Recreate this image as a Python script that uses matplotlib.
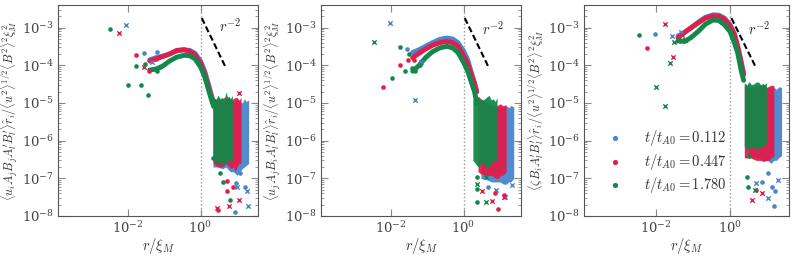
import matplotlib
matplotlib.use("Agg")
import matplotlib.pyplot as plt
from matplotlib.ticker import FixedLocator, LogLocator, NullLocator, NullFormatter

plt.rcParams['mathtext.fontset'] = 'cm'
plt.rcParams['font.family'] = ['DejaVu Serif']

# ---------------- data ----------------
COLORS = ['#4a86cc', '#e01e4b', '#14874a']
TIMES = ['0.112', '0.447', '1.780']

R_CURVE = [0.04, 0.06, 0.09, 0.14, 0.22, 0.35, 0.5, 0.7, 1.0, 1.3, 1.6, 2.0, 2.3]

# panel A
A_BLUE = [1.4e-4, 1.6e-4, 1.75e-4, 2.0e-4, 2.4e-4, 2.6e-4, 2.5e-4, 2.1e-4, 1.3e-4, 7e-5, 3.5e-5, 1.6e-5, 1.0e-5]
A_RED = [1.3e-4, 1.5e-4, 1.7e-4, 2.0e-4, 2.5e-4, 2.6e-4, 2.35e-4, 1.9e-4, 1.15e-4, 6e-5, 3e-5, 1.4e-5, 1.0e-5]
A_GREEN = [7.5e-5, 8e-5, 9.5e-5, 1.3e-4, 1.65e-4, 1.85e-4, 1.8e-4, 1.5e-4, 9e-5, 5e-5, 2.5e-5, 1.2e-5, 8e-6]
# panel B
B_BLUE = [2.2e-4, 2.6e-4, 3.2e-4, 4.0e-4, 4.9e-4, 5.3e-4, 5.0e-4, 4.0e-4, 2.4e-4, 1.4e-4, 7e-5, 3.5e-5, 2e-5]
B_RED = [1.6e-4, 2.1e-4, 2.7e-4, 3.4e-4, 4.0e-4, 4.3e-4, 4.0e-4, 3.2e-4, 1.8e-4, 1.1e-4, 6e-5, 3.2e-5, 2e-5]
B_GREEN = [7e-5, 1.0e-4, 1.6e-4, 2.3e-4, 2.9e-4, 3.2e-4, 2.9e-4, 2.2e-4, 1.2e-4, 7e-5, 3.8e-5, 2e-5, 1e-5]
# panel C
C_BLUE = [6e-4, 7.5e-4, 1.0e-3, 1.4e-3, 1.9e-3, 2.2e-3, 2.15e-3, 1.8e-3, 1.2e-3, 7e-4, 3.3e-4, 1.2e-4, 6e-5]
C_RED = [5.5e-4, 7.5e-4, 1.0e-3, 1.35e-3, 1.8e-3, 2.05e-3, 2.0e-3, 1.7e-3, 1.1e-3, 6.5e-4, 3e-4, 1.1e-4, 5.6e-5]
C_GREEN = [4.5e-4, 4.3e-4, 5.5e-4, 8e-4, 1.25e-3, 1.6e-3, 1.55e-3, 1.2e-3, 7.8e-4, 4e-4, 2.1e-4, 7e-5, 4e-5]

# noisy large-r bands: x, upper, lower
A_BAND_BLUE_X = [2.2, 3, 4, 5, 6.5, 8, 10, 12, 14, 16, 18, 21]
A_BAND_BLUE_HI = [1.2e-5, 1.0e-5, 1.2e-5, 1.1e-5, 1.2e-5, 1.0e-5, 1.2e-5, 1.1e-5, 1.0e-5, 1.3e-5, 1.1e-5, 1.2e-5]
A_BAND_BLUE_LO = [2e-7, 2e-7, 1.8e-7, 2e-7, 1.5e-7, 1.5e-7, 1.2e-7, 1.5e-7, 1.8e-7, 2e-7, 2.2e-7, 2.5e-7]
A_BAND_RED_X = [2.2, 3, 4, 5, 6, 7, 8, 9, 10, 11.5, 13]
A_BAND_RED_HI = [1.4e-5, 1.2e-5, 1.3e-5, 1.5e-5, 1.4e-5, 1.2e-5, 1.3e-5, 1.4e-5, 1.4e-5, 1.2e-5, 1.4e-5]
A_BAND_RED_LO = [2.5e-7, 2e-7, 2e-7, 2.5e-7, 2e-7, 1.8e-7, 2e-7, 1.5e-7, 2e-7, 2.5e-7, 2.5e-7]
A_BAND_GREEN_X = [2.2, 2.6, 3, 3.5, 4, 4.5, 5, 5.5, 6, 6.7, 7.5]
A_BAND_GREEN_HI = [1.5e-5, 1.2e-5, 1.6e-5, 1.3e-5, 1.4e-5, 1.2e-5, 2e-5, 1.4e-5, 1.5e-5, 1.3e-5, 1.6e-5]
A_BAND_GREEN_LO = [3e-7, 2.5e-7, 2.5e-7, 3e-7, 3e-7, 2.5e-7, 2.5e-7, 3e-7, 3e-7, 3e-7, 3e-7]

B_BAND_BLUE_X = [3, 4.5, 6, 8, 10, 12.5, 15, 17.5, 20, 24]
B_BAND_BLUE_HI = [8e-6, 7e-6, 8e-6, 8.5e-6, 7.5e-6, 8e-6, 8.5e-6, 7.5e-6, 8.5e-6, 8e-6]
B_BAND_BLUE_LO = [1e-7, 9e-8, 8e-8, 8e-8, 8e-8, 7e-8, 7e-8, 8e-8, 8e-8, 1e-7]
B_BAND_RED_X = [2.5, 3, 4, 5, 6, 7.5, 9, 10.5, 12, 14.8]
B_BAND_RED_HI = [1.5e-5, 1.3e-5, 1.1e-5, 9e-6, 9e-6, 8e-6, 9e-6, 9.5e-6, 8.5e-6, 9e-6]
B_BAND_RED_LO = [1.5e-7, 1.3e-7, 1.2e-7, 1.2e-7, 1.2e-7, 1e-7, 1e-7, 1.2e-7, 1.2e-7, 1.5e-7]
B_BAND_GREEN_X = [1.8, 2.1, 2.5, 3, 3.5, 4.2, 5, 5.8, 6.5, 7.4, 8.3]
B_BAND_GREEN_HI = [1.3e-5, 1.1e-5, 1.5e-5, 1.2e-5, 1.2e-5, 1.4e-5, 1.6e-5, 1.2e-5, 1.3e-5, 1.1e-5, 1.4e-5]
B_BAND_GREEN_LO = [3e-7, 2.5e-7, 2e-7, 2.5e-7, 2.5e-7, 2e-7, 2e-7, 2.5e-7, 3e-7, 3e-7, 3e-7]

C_BAND_BLUE_X = [3, 4.5, 6, 8, 10, 12.5, 15, 17.5, 20, 24]
C_BAND_BLUE_HI = [2.7e-5, 2.4e-5, 2.5e-5, 2.7e-5, 2.4e-5, 2.6e-5, 2.6e-5, 2.3e-5, 2.7e-5, 2.6e-5]
C_BAND_BLUE_LO = [4e-7, 3.5e-7, 3.5e-7, 3e-7, 3e-7, 2.5e-7, 3e-7, 3e-7, 3.5e-7, 4e-7]
C_BAND_RED_X = [2.4, 3.5, 5, 6.5, 8, 9.5, 11, 13, 15]
C_BAND_RED_HI = [3e-5, 2.6e-5, 2.8e-5, 3e-5, 3e-5, 2.6e-5, 2.8e-5, 3e-5, 2.9e-5]
C_BAND_RED_LO = [3.5e-7, 3.5e-7, 3e-7, 3e-7, 2.8e-7, 3e-7, 3e-7, 3.5e-7, 4e-7]
C_BAND_GREEN_X = [2.4, 2.8, 3.2, 3.7, 4.3, 5.0, 5.8, 6.6, 7.5, 8.4, 9.4]
C_BAND_GREEN_HI = [3.5e-5, 3.0e-5, 3.7e-5, 3.1e-5, 3.2e-5, 3.6e-5, 3.6e-5, 3.0e-5, 3.3e-5, 3.1e-5, 3.5e-5]
C_BAND_GREEN_LO = [7e-7, 6e-7, 6e-7, 7e-7, 7e-7, 6e-7, 6e-7, 7e-7, 7e-7, 8e-7, 8e-7]

# isolated points (dots 'o' and crosses 'x')
A_BLUE_DOT_X = [0.027, 0.062, 9.3, 9.0, 16.5, 12.5]
A_BLUE_DOT_Y = [2.1e-4, 2.3e-4, 7.7e-8, 1.3e-8, 6e-8, 1.4e-7]
A_BLUE_X_X = [8.9e-3, 0.045, 19, 20, 10]
A_BLUE_X_Y = [1.2e-3, 1.2e-4, 4.5e-8, 1.8e-8, 6e-8]
A_RED_DOT_X = [0.0166, 0.06, 0.039, 5.2, 3.1, 7.8, 5.2]
A_RED_DOT_Y = [1.9e-4, 1.5e-4, 6.9e-5, 4.5e-8, 1.4e-8, 6e-8, 8.5e-8]
A_RED_X_X = [5.6e-3, 0.0275, 11.5, 6.2, 2.8, 11.3]
A_RED_X_Y = [7.2e-4, 8.8e-5, 2.7e-8, 1.8e-8, 1.6e-8, 1.8e-5]
A_GREEN_DOT_X = [3.2e-3, 0.0166, 0.029, 0.0098, 0.023, 0.036, 0.055, 0.065, 0.075, 4.1, 6.5, 3.5, 2.2]
A_GREEN_DOT_Y = [9.3e-4, 9.5e-5, 1.1e-4, 3e-5, 3e-5, 1.6e-5, 8e-5, 7e-5, 9e-5, 8e-8, 2.7e-8, 1.4e-7, 3.5e-7]
A_GREEN_X_X = [3.8]
A_GREEN_X_Y = [2.5e-7]

B_BLUE_DOT_X = [0.028, 4.8]
B_BLUE_DOT_Y = [2.7e-4, 6e-8]
B_BLUE_X_X = [9.4e-3, 0.047, 0.066, 21, 14, 8]
B_BLUE_X_Y = [1.33e-3, 1.2e-5, 1.2e-4, 6.6e-8, 3.2e-8, 5e-8]
B_RED_DOT_X = [0.065, 0.029, 0.042, 0.0175, 6e-3, 8.7, 7.2, 13]
B_RED_DOT_Y = [2.25e-4, 1.4e-4, 1.4e-4, 1e-4, 2.7e-5, 1.5e-8, 4e-8, 3.7e-8]
B_RED_X_X = [3.3, 6.2, 13]
B_RED_X_Y = [4.7e-8, 2.5e-8, 3.2e-8]
B_GREEN_DOT_X = [0.0175, 0.031, 0.039, 0.024, 0.046, 0.0105, 0.065, 2.4, 2.4, 2.4]
B_GREEN_DOT_Y = [3.1e-4, 2e-4, 8.5e-5, 7.2e-5, 7.1e-5, 4.5e-5, 1e-4, 2.3e-8, 5.2e-8, 1.1e-7]
B_GREEN_X_X = [3.4e-3, 2.4, 4.1, 4.1]
B_GREEN_X_Y = [4.1e-4, 7e-8, 2.4e-8, 1.1e-7]

C_BLUE_DOT_X = [9.4e-3, 15, 10.5, 13, 7.2, 16.5]
C_BLUE_DOT_Y = [6.7e-4, 1.9e-8, 1.4e-7, 6e-8, 8e-8, 4.5e-8]
C_BLUE_X_X = [0.0276, 0.048, 10.5, 19.5, 5.1]
C_BLUE_X_Y = [6.1e-4, 7.7e-4, 3e-8, 9e-8, 7.4e-8]
C_RED_DOT_X = [5.8e-3, 5]
C_RED_DOT_Y = [2.8e-4, 5e-8]
C_RED_X_X = [0.0175, 0.029, 0.051, 3.8, 7]
C_RED_X_Y = [1.28e-3, 1.65e-4, 6.5e-4, 2.7e-8, 4e-8]
C_GREEN_DOT_X = [3.5e-3, 2.9, 3.0, 3.3]
C_GREEN_DOT_Y = [6.2e-4, 1.1e-7, 6e-8, 3.8e-7]
C_GREEN_X_X = [0.024, 0.0102, 0.0175, 0.031, 0.04, 0.05, 0.06, 4.6]
C_GREEN_X_Y = [1.15e-4, 2.7e-5, 8.5e-6, 4.2e-4, 4.5e-4, 4.8e-4, 4.6e-4, 5e-8]

SLOPE_X = [1.08, 5.0]
SLOPE_Y = [1.8e-3, 8.5e-5]

YLABELS = [
    r"$\langle u_i A_j B_j A_l^{\prime} B_l^{\prime}\rangle \hat{r}_i/\langle u^2\rangle^{1/2}\langle B^2\rangle^2\xi_M^2$",
    r"$\langle u_j A_j B_i A_l^{\prime} B_l^{\prime}\rangle \hat{r}_i/\langle u^2\rangle^{1/2}\langle B^2\rangle^2\xi_M^2$",
    r"$\langle \zeta B_i A_l^{\prime} B_l^{\prime}\rangle \hat{r}_i/\langle u^2\rangle^{1/2}\langle B^2\rangle^2\xi_M^2$",
]

panels = [
    dict(curves=[A_BLUE, A_RED, A_GREEN],
         bands=[(A_BAND_BLUE_X, A_BAND_BLUE_HI, A_BAND_BLUE_LO),
                (A_BAND_RED_X, A_BAND_RED_HI, A_BAND_RED_LO),
                (A_BAND_GREEN_X, A_BAND_GREEN_HI, A_BAND_GREEN_LO)],
         dots=[(A_BLUE_DOT_X, A_BLUE_DOT_Y), (A_RED_DOT_X, A_RED_DOT_Y), (A_GREEN_DOT_X, A_GREEN_DOT_Y)],
         crosses=[(A_BLUE_X_X, A_BLUE_X_Y), (A_RED_X_X, A_RED_X_Y), (A_GREEN_X_X, A_GREEN_X_Y)],
         label_pos=(6.5, 1.1e-3)),
    dict(curves=[B_BLUE, B_RED, B_GREEN],
         bands=[(B_BAND_BLUE_X, B_BAND_BLUE_HI, B_BAND_BLUE_LO),
                (B_BAND_RED_X, B_BAND_RED_HI, B_BAND_RED_LO),
                (B_BAND_GREEN_X, B_BAND_GREEN_HI, B_BAND_GREEN_LO)],
         dots=[(B_BLUE_DOT_X, B_BLUE_DOT_Y), (B_RED_DOT_X, B_RED_DOT_Y), (B_GREEN_DOT_X, B_GREEN_DOT_Y)],
         crosses=[(B_BLUE_X_X, B_BLUE_X_Y), (B_RED_X_X, B_RED_X_Y), (B_GREEN_X_X, B_GREEN_X_Y)],
         label_pos=(6.5, 9.5e-4)),
    dict(curves=[C_BLUE, C_RED, C_GREEN],
         bands=[(C_BAND_BLUE_X, C_BAND_BLUE_HI, C_BAND_BLUE_LO),
                (C_BAND_RED_X, C_BAND_RED_HI, C_BAND_RED_LO),
                (C_BAND_GREEN_X, C_BAND_GREEN_HI, C_BAND_GREEN_LO)],
         dots=[(C_BLUE_DOT_X, C_BLUE_DOT_Y), (C_RED_DOT_X, C_RED_DOT_Y), (C_GREEN_DOT_X, C_GREEN_DOT_Y)],
         crosses=[(C_BLUE_X_X, C_BLUE_X_Y), (C_RED_X_X, C_RED_X_Y), (C_GREEN_X_X, C_GREEN_X_Y)],
         label_pos=(6.0, 9.5e-4)),
]

fig = plt.figure(figsize=(7.93, 2.56), dpi=100)
lefts = [58, 321, 584]
widths = [200, 200, 205]
axes = []
for i, p in enumerate(panels):
    ax = fig.add_axes([lefts[i] / 793, 40 / 256, widths[i] / 793, 211 / 256])
    axes.append(ax)
    ax.set_xscale('log')
    ax.set_yscale('log')
    ax.set_xlim(1.2e-4, 38)
    ax.set_ylim(1e-8, 4e-3)
    ax.axvline(1.0, color='#999999', ls=':', lw=1.0, zorder=1)
    for k in range(3):
        c = COLORS[k]
        bx, bhi, blo = p['bands'][k]
        ax.fill_between(bx, blo, bhi, color=c, lw=0, alpha=0.95, zorder=2 + k)
        ax.plot(R_CURVE, p['curves'][k], color=c, lw=3.5, solid_capstyle='round',
                solid_joinstyle='round', zorder=2 + k)
        dx, dy = p['dots'][k]
        ax.scatter(dx, dy, s=11, color=c, marker='o', lw=0, zorder=5 + k)
        xx, xy = p['crosses'][k]
        ax.scatter(xx, xy, s=10, color=c, marker='x', lw=1.0, zorder=5 + k)
    ax.plot(SLOPE_X, SLOPE_Y, color='black', ls='--', lw=1.5, dashes=(3, 1.5), zorder=9)
    ax.text(p['label_pos'][0], p['label_pos'][1], r"$r^{-2}$", fontsize=10.5,
            ha='center', va='center', color='#222222')
    ax.xaxis.set_major_locator(FixedLocator([1e-2, 1e0]))
    ax.xaxis.set_minor_locator(NullLocator())
    ax.yaxis.set_major_locator(LogLocator(base=10, numticks=12))
    ax.yaxis.set_minor_locator(LogLocator(base=10, subs=range(2, 10), numticks=12))
    ax.yaxis.set_minor_formatter(NullFormatter())
    ax.tick_params(which='both', direction='in', top=True, right=True,
                   colors='#888888', labelcolor='#444444', labelsize=9.5)
    ax.tick_params(which='major', length=5, width=0.8, pad=3)
    ax.tick_params(which='minor', length=2.5, width=0.6)
    for s in ax.spines.values():
        s.set_color('#555555')
        s.set_linewidth(0.8)
    ax.set_xlabel(r"$r/\xi_M$", fontsize=10.5, color='#333333', labelpad=0)
    ax.set_ylabel(YLABELS[i], fontsize=8.8, color='#333333', labelpad=1)

handles = []
for k in range(3):
    h = axes[2].scatter([], [], s=14, color=COLORS[k], marker='o', lw=0,
                        label=r"$t/t_{A0} = %s$" % TIMES[k])
    handles.append(h)
axes[2].legend(handles=handles, loc='lower left', bbox_to_anchor=(0.03, 0.05),
               frameon=False, fontsize=10.5, handletextpad=1.0, labelspacing=0.25,
               borderpad=0.2, labelcolor='#333333')

fig.savefig('out.png', dpi=100)
